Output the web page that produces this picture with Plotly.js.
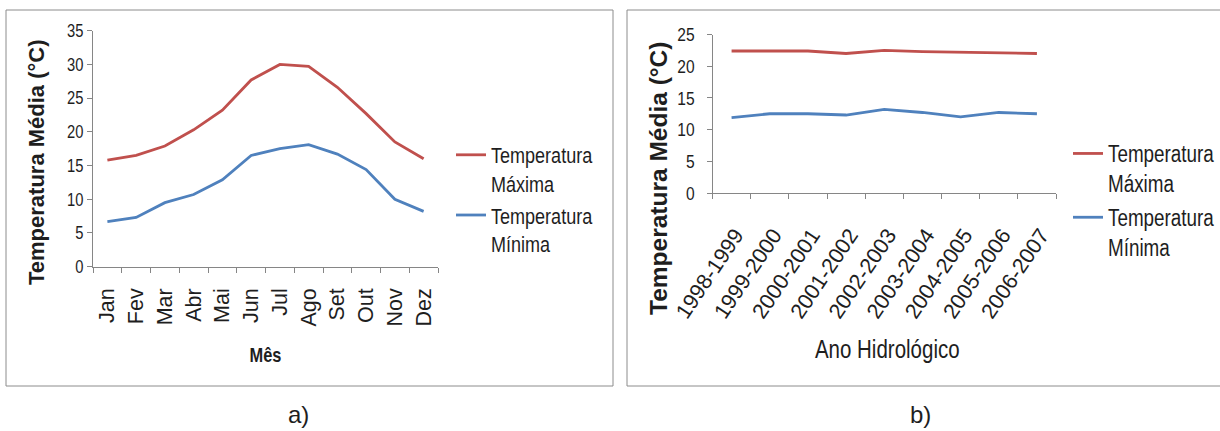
<!DOCTYPE html>
<html>
<head>
<meta charset="utf-8">
<script src="https://cdn.plot.ly/plotly-3.0.1.min.js"></script>
<style>
  html, body { margin: 0; padding: 0; background: #ffffff; overflow: hidden; }
  #wrap { width: 1220px; height: 431px; overflow: hidden; }
  #chart { width: 1320px; height: 431px; }
  /* narrow lettering for the two x titles */
  #chart .annotation[data-index="1"] text, #chart .annotation[data-index="3"] text {
    transform-box: fill-box; transform-origin: 50% 50%; transform: scaleX(0.82);
  }
</style>
</head>
<body>
<div id="wrap"><div id="chart"></div></div>
<script>
// Monthly mean temperatures (°C)
const meses = ["Jan", "Fev", "Mar", "Abr", "Mai", "Jun", "Jul", "Ago", "Set", "Out", "Nov", "Dez"];
const maxMensal = [15.8, 16.5, 17.9, 20.3, 23.2, 27.7, 30.0, 29.7, 26.6, 22.7, 18.5, 16.0];
const minMensal = [6.7, 7.3, 9.5, 10.7, 12.9, 16.5, 17.5, 18.1, 16.7, 14.4, 10.0, 8.2];

// Mean temperatures per hydrological year (°C)
const anos = ["1998-1999", "1999-2000", "2000-2001", "2001-2002", "2002-2003",
              "2003-2004", "2004-2005", "2005-2006", "2006-2007"];
const maxAnual = [22.4, 22.4, 22.4, 22.0, 22.5, 22.3, 22.2, 22.2, 22.0];
const minAnual = [11.9, 12.5, 12.5, 12.3, 13.2, 12.7, 12.0, 12.7, 12.5];

const nomeMax = "Temperatura<br>Máxima";
const nomeMin = "Temperatura<br>Mínima";
const tituloY = "Temperatura Média (°C)";

// figure geometry in pixels (the figure is a little wider than the visible page
// so the right-hand legend never squeezes the plotting areas)
const W = 1320, H = 431;
const px = v => v / W;
const py = v => 1 - v / H;

const RED = "#C0504D";
const BLUE = "#4F81BD";
const AXIS = "#868686";
const INK = "#1e1e1e";
const SANS = "'Liberation Sans', Arial, Helvetica, sans-serif";
const NARROW = 0.82;

const traces = [
  { x: meses, y: maxMensal, name: nomeMax, type: "scatter", mode: "lines",
    line: { color: RED, width: 2.8 }, xaxis: "x", yaxis: "y", legend: "legend", legendgroup: "a1" },
  { x: meses, y: minMensal, name: nomeMin, type: "scatter", mode: "lines",
    line: { color: BLUE, width: 2.8 }, xaxis: "x", yaxis: "y", legend: "legend", legendgroup: "a2" },
  { x: anos, y: maxAnual, name: nomeMax, type: "scatter", mode: "lines",
    line: { color: RED, width: 2.8 }, xaxis: "x2", yaxis: "y2", legend: "legend2", legendgroup: "b1" },
  { x: anos, y: minAnual, name: nomeMin, type: "scatter", mode: "lines",
    line: { color: BLUE, width: 2.8 }, xaxis: "x2", yaxis: "y2", legend: "legend2", legendgroup: "b2" }
];

const catAxis = (n, extra) => Object.assign({
  type: "category",
  range: [-0.5, n - 0.5],
  showline: true, linecolor: AXIS, linewidth: 1,
  ticks: "outside", tickson: "boundaries", ticklen: 5, tickcolor: AXIS, tickwidth: 1,
  showgrid: false, zeroline: false, fixedrange: true
}, extra);

const valAxis = (top, extra) => Object.assign({
  range: [0, top], dtick: 5, tick0: 0,
  showline: true, linecolor: AXIS, linewidth: 1,
  ticks: "outside", ticklen: 5, tickcolor: AXIS, tickwidth: 1,
  showgrid: false, zeroline: false, fixedrange: true
}, extra);

const layout = {
  width: W, height: H,
  margin: { l: 0, r: 0, t: 0, b: 0 },
  paper_bgcolor: "#ffffff", plot_bgcolor: "#ffffff",
  showlegend: true,
  font: { family: SANS, color: INK },

  xaxis: catAxis(meses.length, {
    domain: [px(93), px(438)], anchor: "y",
    tickangle: -90, ticklabelstandoff: 12,
    tickfont: { family: SANS, size: 21.5, color: INK }
  }),
  yaxis: valAxis(35, {
    domain: [py(266.7), py(30.7)], anchor: "x",
    tickfont: { family: SANS, size: 18, color: INK }
  }),
  xaxis2: catAxis(anos.length, {
    domain: [px(712.5), px(1056)], anchor: "y2",
    tickangle: -56, ticklabelstandoff: 20, ticklabelshift: 4,
    tickfont: { family: SANS, size: 21.5, color: INK }
  }),
  yaxis2: valAxis(25, {
    domain: [py(193), py(34.5)], anchor: "x2",
    ticklabelstandoff: 8,
    tickfont: { family: SANS, size: 19, color: INK }
  }),

  legend: {
    x: px(451), y: py(134), xanchor: "left", yanchor: "top",
    valign: "top", bgcolor: "rgba(0,0,0,0)", tracegroupgap: 0,
    font: { family: SANS, size: 22, color: INK }
  },
  legend2: {
    x: px(1068), y: py(132), xanchor: "left", yanchor: "top",
    valign: "top", bgcolor: "rgba(0,0,0,0)", tracegroupgap: 1,
    font: { family: SANS, size: 23, color: INK }
  },

  shapes: [
    { type: "rect", xref: "paper", yref: "paper",
      x0: px(6), x1: px(613), y0: py(386), y1: py(10),
      line: { color: "#8c8c8c", width: 1 } },
    { type: "rect", xref: "paper", yref: "paper",
      x0: px(627), x1: px(1300), y0: py(386), y1: py(10),
      line: { color: "#8c8c8c", width: 1 } }
  ],

  annotations: [
    { text: tituloY, xref: "paper", yref: "paper", x: px(36), y: py(162),
      xanchor: "center", yanchor: "middle", textangle: -90, showarrow: false,
      font: { family: SANS, size: 22, color: INK, weight: "bold" } },
    { text: "Mês", xref: "paper", yref: "paper", x: px(265.5), y: py(355),
      xanchor: "center", yanchor: "middle", showarrow: false,
      font: { family: SANS, size: 20, color: INK, weight: "bold" } },
    { text: tituloY, xref: "paper", yref: "paper", x: px(658), y: py(179),
      xanchor: "center", yanchor: "middle", textangle: -90, showarrow: false,
      font: { family: SANS, size: 24.5, color: INK, weight: "bold" } },
    { text: "Ano Hidrológico", xref: "paper", yref: "paper", x: px(887.5), y: py(349),
      xanchor: "center", yanchor: "middle", showarrow: false,
      font: { family: SANS, size: 25, color: INK } },
    { text: "a)", xref: "paper", yref: "paper", x: px(298), y: py(414),
      xanchor: "center", yanchor: "middle", showarrow: false,
      font: { family: SANS, size: 24, color: INK } },
    { text: "b)", xref: "paper", yref: "paper", x: px(920), y: py(414),
      xanchor: "center", yanchor: "middle", showarrow: false,
      font: { family: SANS, size: 24, color: INK } }
  ]
};

// condense a text element horizontally about its anchor point (x attribute)
function condense(el) {
  const x = parseFloat(el.getAttribute("x")) || 0;
  const prev = el.getAttribute("transform") || "";
  el.setAttribute("transform",
    prev + " translate(" + x + ",0) scale(" + NARROW + ",1) translate(" + (-x) + ",0)");
}

Plotly.newPlot("chart", traces, layout, { staticPlot: true, displayModeBar: false })
  .then(gd => {
    gd.querySelectorAll(".legendtext, .legend2text").forEach(condense);
    gd.querySelectorAll(".ytick text, .y2tick text").forEach(condense);
  });
</script>
</body>
</html>
